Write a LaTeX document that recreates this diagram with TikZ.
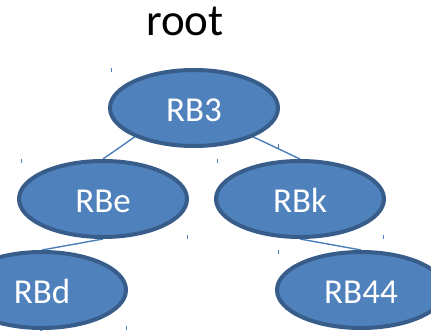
\documentclass[tikz,border=0pt]{standalone}
\usepackage{fontspec}
\setmainfont{Carlito}
\usetikzlibrary{shapes.geometric,backgrounds}
\definecolor{nodefill}{HTML}{4F81BD}
\definecolor{nodeborder}{HTML}{385D8A}
\definecolor{edgecol}{HTML}{4A7EBB}
\begin{document}
\begin{tikzpicture}[x=1pt,y=-1pt,
  treenode/.style={ellipse, fill=nodefill, draw=nodeborder, line width=4pt,
    minimum width=168pt, minimum height=76pt, inner sep=0pt,
    text=white, font=\fontsize{35}{35}\selectfont, text height=27pt, text depth=0pt},
  treeedge/.style={draw=edgecol, line width=1.4pt},
  tickmark/.style={draw=edgecol, line width=0.8pt}]
\useasboundingbox (0,0) rectangle (431,331);
\clip (0,0) rectangle (431,331);
\node[font=\fontsize{45}{45}\selectfont, anchor=base] (title) at (185,36) {root};
% nodes
\node[treenode] (RB3) at (194,108) {RB3};
\node[treenode] (RBe) at (103,199) {RBe};
\node[treenode] (RBk) at (300,199) {RBk};
\node[treenode] (RBd) at (42,290) {RBd};
\node[treenode] (RB44) at (361,290) {RB44};
\coordinate (below) at (20,348);
% edges (drawn behind nodes)
\begin{scope}[on background layer]
\draw[treeedge] (RB3.206) -- (RBe.north);
\draw[treeedge] (RB3.334) -- (RBk.north);
\draw[treeedge] (RBe.south) -- (RBd.north);
\draw[treeedge] (RBk.south) -- (RB44.north);
\draw[treeedge] (RBd.south) -- (below);
\end{scope}
% small corner ticks
\foreach \x/\y in {111/70, 278/146, 21/161, 187/237, 217/161, 383/237, 278/252, 126/328}
  \draw[tickmark] (\x,\y-2) -- (\x,\y+2);
\end{tikzpicture}
\end{document}
